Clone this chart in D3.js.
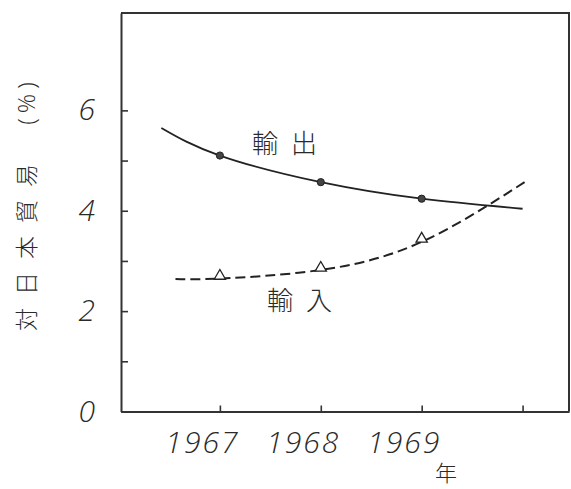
<!DOCTYPE html>
<html>
<head>
<meta charset="utf-8">
<script src="https://cdn.jsdelivr.net/npm/d3@7"></script>
<style>
  body { margin: 0; background: #fff; overflow: hidden; }
  svg { display: block; }
  text { fill: #2a2a2a; }
</style>
</head>
<body>
<div id="chart"></div>
<script>
// years on the x axis
var years = [1967, 1968, 1969, 1970];
var yearLabels = ["1967", "1968", "1969", ""];
var yTicks = [0, 1, 2, 3, 4, 5, 6];
var yTickLabels = ["0", "", "2", "", "4", "", "6"];

// observed points (markers)
var pointYears = [1967, 1968, 1969];
var exportValues = [5.10, 4.57, 4.24];
var importValues = [2.66, 2.82, 3.40];

// hand drawn trend curves, incl. the ends of the drawn lines
var exportCurveYears = [1966.42, 1967, 1968, 1969, 1970];
var exportCurve = [5.65, 5.10, 4.57, 4.24, 4.04];
var importCurveYears = [1966.56, 1967, 1968, 1969, 1970.02];
var importCurve = [2.64, 2.65, 2.82, 3.38, 4.57];

var width = 571, height = 489;
var frame = {left: 121, right: 569, top: 13, bottom: 411.5};

var svg = d3.select("#chart").append("svg")
  .attr("width", width)
  .attr("height", height);

var x = d3.scaleLinear().domain([1966.02, 1970.46]).range([frame.left, frame.right]);
var y = d3.scaleLinear().domain([0, 7.94]).range([frame.bottom, frame.top]);

var digitFont = "'Open Sans', 'DejaVu Sans', sans-serif";
var cjkFont = "'Noto Sans CJK JP', sans-serif";

// frame (top + right)
svg.append("path")
  .attr("d", "M" + frame.left + "," + frame.top + "H" + frame.right + "V" + frame.bottom)
  .attr("fill", "none")
  .attr("stroke", "#333")
  .attr("stroke-width", 2);

// y axis, ticks point inward
var yAxis = svg.append("g")
  .attr("transform", "translate(" + frame.left + ",0)")
  .call(d3.axisLeft(y).tickValues(yTicks).tickSizeInner(-7).tickSizeOuter(0)
    .tickPadding(26).tickFormat(function(d, i) { return yTickLabels[i]; }));

// x axis
var xAxis = svg.append("g")
  .attr("transform", "translate(0," + frame.bottom + ")")
  .call(d3.axisBottom(x).tickValues(years).tickSizeInner(-6).tickSizeOuter(0)
    .tickPadding(20).tickFormat(function(d, i) { return yearLabels[i]; }));

[yAxis, xAxis].forEach(function(g) {
  g.select(".domain").attr("stroke", "#333").attr("stroke-width", 2);
  g.selectAll(".tick line").attr("stroke", "#333").attr("stroke-width", 1.6);
  g.selectAll(".tick text")
    .attr("fill", "#2a2a2a")
    .style("font-family", digitFont)
    .style("font-weight", 300)
    .style("font-style", "italic")
    .style("font-size", "30px");
});
xAxis.selectAll(".tick text").attr("x", -18).style("letter-spacing", "2px");

// curves
var exportLine = d3.line()
  .x(function(d, i) { return x(exportCurveYears[i]); })
  .y(function(d) { return y(d); })
  .curve(d3.curveNatural);

var importLine = d3.line()
  .x(function(d, i) { return x(importCurveYears[i]); })
  .y(function(d) { return y(d); })
  .curve(d3.curveNatural);

svg.append("path")
  .attr("d", exportLine(exportCurve))
  .attr("fill", "none")
  .attr("stroke", "#222")
  .attr("stroke-width", 1.8);

svg.append("path")
  .attr("d", importLine(importCurve))
  .attr("fill", "none")
  .attr("stroke", "#222")
  .attr("stroke-width", 2)
  .attr("stroke-dasharray", "10,5");

// markers
svg.selectAll(".exp").data(exportValues).enter().append("circle")
  .attr("class", "exp")
  .attr("cx", function(d, i) { return x(pointYears[i]); })
  .attr("cy", function(d) { return y(d); })
  .attr("r", 3.6)
  .attr("fill", "#444")
  .attr("stroke", "#222")
  .attr("stroke-width", 1);

svg.selectAll(".imp").data(importValues).enter().append("path")
  .attr("class", "imp")
  .attr("d", d3.symbol().type(d3.symbolTriangle).size(55))
  .attr("transform", function(d, i) {
    return "translate(" + x(pointYears[i]) + "," + (y(d) - 2) + ")";
  })
  .attr("fill", "#fff")
  .attr("stroke", "#222")
  .attr("stroke-width", 1.3);

// series labels
var cjkWeight = 300;
svg.append("text")
  .attr("x", 252).attr("y", 141)
  .attr("dominant-baseline", "central")
  .style("font-family", cjkFont)
  .style("font-weight", cjkWeight)
  .style("font-size", "26px")
  .style("letter-spacing", "13px")
  .text("輸出");

svg.append("text")
  .attr("x", 267).attr("y", 298)
  .attr("dominant-baseline", "central")
  .style("font-family", cjkFont)
  .style("font-weight", cjkWeight)
  .style("font-size", "26px")
  .style("letter-spacing", "13px")
  .text("輸入");

// axis titles
svg.append("text")
  .attr("x", 446).attr("y", 471)
  .attr("text-anchor", "middle")
  .attr("dominant-baseline", "central")
  .style("font-family", cjkFont)
  .style("font-weight", cjkWeight)
  .style("font-size", "22px")
  .text("年");

svg.append("text")
  .attr("transform", "translate(25,241) rotate(-90)")
  .attr("text-anchor", "middle")
  .attr("dominant-baseline", "central")
  .style("font-family", cjkFont)
  .style("font-weight", cjkWeight)
  .style("font-size", "23px")
  .style("letter-spacing", "13px")
  .text("対日本貿易");

svg.append("text")
  .attr("transform", "translate(25,101) rotate(-90)")
  .attr("text-anchor", "middle")
  .attr("dominant-baseline", "central")
  .style("font-family", digitFont)
  .style("font-weight", 300)
  .style("font-size", "24px")
  .style("letter-spacing", "5px")
  .text("(%)");
</script>
</body>
</html>
